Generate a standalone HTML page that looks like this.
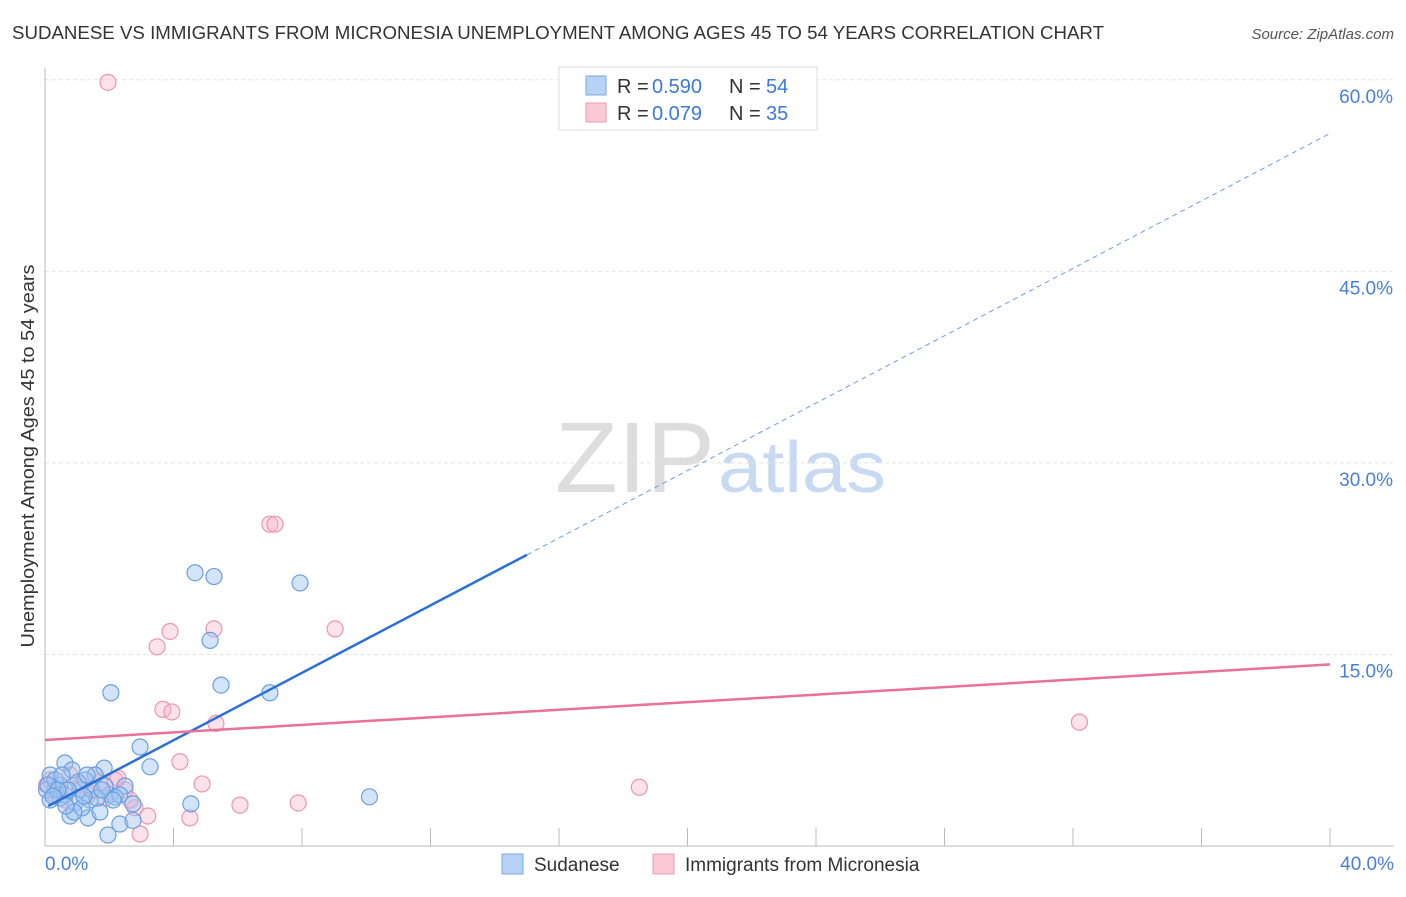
<!DOCTYPE html>
<html><head><meta charset="utf-8"><style>
body{margin:0;background:#fff;font-family:"Liberation Sans",sans-serif;}
svg text{font-family:"Liberation Sans",sans-serif;}
</style></head><body>
<svg id="c" width="1406" height="892">
<text x="12" y="39" font-size="18" fill="#333" textLength="1092" lengthAdjust="spacingAndGlyphs">SUDANESE VS IMMIGRANTS FROM MICRONESIA UNEMPLOYMENT AMONG AGES 45 TO 54 YEARS CORRELATION CHART</text>
<text x="1394" y="39" font-size="15" fill="#555" font-style="italic" text-anchor="end">Source: ZipAtlas.com</text>
<text x="34" y="456" font-size="18" fill="#333" text-anchor="middle" textLength="383" lengthAdjust="spacingAndGlyphs" transform="rotate(-90 34 456)">Unemployment Among Ages 45 to 54 years</text>
<text x="555" y="492" font-size="100" fill="#ddd" font-family="Liberation Serif" textLength="160" lengthAdjust="spacingAndGlyphs">ZIP</text>
<text x="718" y="492" font-size="72" fill="#c8daf2" textLength="168" lengthAdjust="spacingAndGlyphs">atlas</text>
<g id="grid"></g><g id="pts"></g><g id="lines"></g>
<g>
<rect x="559" y="67" width="258" height="63" fill="#fff" stroke="#ddd"/>
<rect x="586" y="76" width="20" height="19" fill="#b8d2f5" stroke="#7aa7e3"/>
<text x="617" y="93" font-size="20" fill="#333">R =</text><text x="652" y="93" font-size="20" fill="#3c78d8">0.590</text>
<text x="729" y="93" font-size="20" fill="#333">N =</text><text x="766" y="93" font-size="20" fill="#3c78d8">54</text>
<rect x="586" y="103" width="20" height="19" fill="#fbc8d6" stroke="#ee9ab3"/>
<text x="617" y="120" font-size="20" fill="#333">R =</text><text x="652" y="120" font-size="20" fill="#3c78d8">0.079</text>
<text x="729" y="120" font-size="20" fill="#333">N =</text><text x="766" y="120" font-size="20" fill="#3c78d8">35</text>
</g>
<g>
<rect x="502" y="854" width="21" height="20" fill="#b8d2f5" stroke="#7aa7e3"/>
<text x="534" y="871" font-size="19" fill="#333">Sudanese</text>
<rect x="653" y="854" width="21" height="20" fill="#fbc8d6" stroke="#ee9ab3"/>
<text x="685" y="871" font-size="19" fill="#333">Immigrants from Micronesia</text>
</g>
</svg>
<script>
const blueX=[4.67,5.26,7.94,5.14,2.05,5.48,7.0,2.96,3.27,10.1,4.54,0.62,1.84,2.49,1.96,2.33,2.74,2.74,1.34,0.78,0.47,0.93,0.16,0.31,1.09,1.56,2.02,2.18,1.4,1.71,1.25,0.47,0.84,0.05,0.16,2.33,1.03,0.62,1.46,1.87,0.31,0.09,0.72,1.15,1.62,0.4,0.53,1.31,1.77,2.12,0.9,1.21,0.65,0.25];
const blueY=[21.4,21.1,20.6,16.1,12.0,12.6,12.0,7.75,6.2,3.85,3.3,6.5,6.1,4.7,0.86,1.72,3.3,2.0,2.2,2.35,3.76,3.37,5.56,4.39,4.39,5.56,4.0,3.84,3.6,2.66,5.17,4.78,5.95,4.39,3.6,4.0,5.0,4.0,4.39,4.7,5.17,4.78,4.39,2.98,3.76,4.39,5.56,5.56,4.39,3.6,2.66,3.9,3.13,3.9];
const pinkX=[1.96,7.0,7.16,3.89,5.26,3.49,9.03,3.67,3.95,5.32,32.2,4.2,4.89,18.5,6.07,7.88,4.51,3.2,2.8,2.96,2.18,1.56,0.47,0.16,2.49,1.09,1.34,1.87,0.78,0.05,2.65,0.62,1.71,0.31,2.27];
const pinkY=[59.8,25.2,25.2,16.8,17.0,15.6,17.0,10.7,10.5,9.6,9.7,6.6,4.86,4.6,3.2,3.37,2.2,2.35,3.0,0.94,5.17,5.56,4.39,5.17,4.39,4.78,4.0,3.76,5.56,4.78,3.6,3.6,5.0,4.0,5.32];
const yTicks=[15,30,45,60];
const xTickVals=[0,4,8,12,16,20,24,28,32,36,40];
const blueLine=[3.0,1.32];
const pinkLine=[8.3,0.148];
const NS="http://www.w3.org/2000/svg";
const sx=v=>45+v*32.125, sy=v=>846-v*12.77;
function mk(t,a,p){const e=document.createElementNS(NS,t);for(const k in a)e.setAttribute(k,a[k]);p.appendChild(e);return e;}
const g=document.getElementById('grid');
yTicks.forEach(t=>{
 const l=mk('line',{x1:45,x2:1394,y1:sy(t),y2:sy(t),stroke:'#e4e4e4','stroke-dasharray':'4,3'},g);
 
 
 const tx=mk('text',{x:1393,y:sy(t)+23,'font-size':19,fill:'#4a7fd6','text-anchor':'end'},g);
 tx.textContent=t.toFixed(1)+'%';
 
 
});
mk('line',{x1:45,x2:45,y1:68,y2:846,stroke:'#bbb'},g);
mk('line',{x1:45,x2:1394,y1:846,y2:846,stroke:'#bbb'},g);
xTickVals.forEach(t=>{
 if(t>0){const l=mk('line',{x1:sx(t),x2:sx(t),y1:828,y2:846,stroke:'#bbb'},g);
 
 }
});
[[0,'0.0%','start',45],[40,'40.0%','end',1394]].forEach(d=>{
 const tx=mk('text',{x:d[3],y:870,'font-size':19,fill:'#4a7fd6','text-anchor':d[2]},g);
 tx.textContent=d[1];
 
 
});
const p=document.getElementById('pts');
pinkX.forEach((x,i)=>{
 const c=mk('circle',{cx:sx(x),cy:sy(pinkY[i]),r:8,fill:'rgba(248,182,202,0.4)',stroke:'#eb95ae','stroke-width':1.2},p);
 
 
});
blueX.forEach((x,i)=>{
 const c=mk('circle',{cx:sx(x),cy:sy(blueY[i]),r:8,fill:'rgba(160,195,240,0.45)',stroke:'#6a9fe0','stroke-width':1.2},p);
 
 
});
const L=document.getElementById('lines');
const bf=x=>blueLine[0]+blueLine[1]*x, pf=x=>pinkLine[0]+pinkLine[1]*x;
let e=mk('line',{x1:sx(0.1),y1:sy(bf(0.1)),x2:sx(15),y2:sy(bf(15)),stroke:'#2a6fd6','stroke-width':2.5},L);


e=mk('line',{x1:sx(15),y1:sy(bf(15)),x2:sx(40),y2:sy(bf(40)),stroke:'#6a9fe0','stroke-width':1,'stroke-dasharray':'5,4'},L);


e=mk('line',{x1:sx(0),y1:sy(pf(0)),x2:sx(40),y2:sy(pf(40)),stroke:'#e8709a','stroke-width':2.5},L);


</script>
</body></html>
